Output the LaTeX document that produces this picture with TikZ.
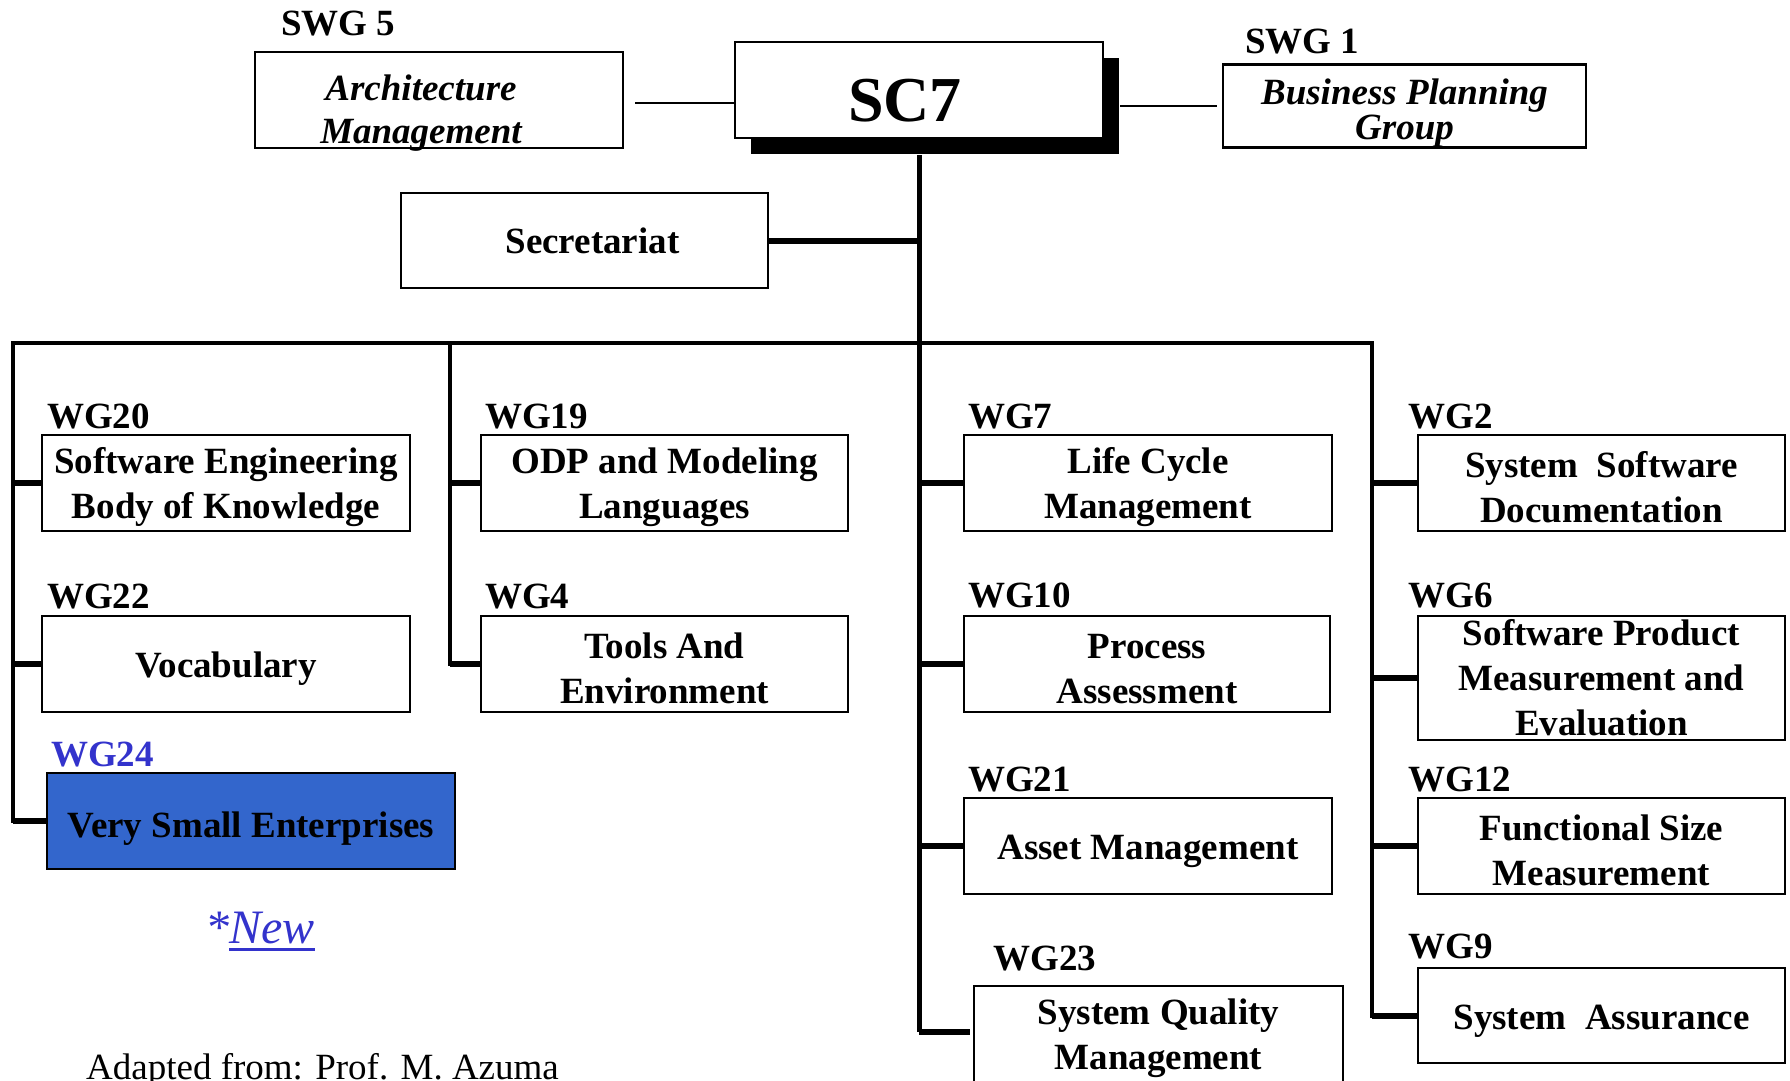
\documentclass[tikz,border=0pt]{standalone}
\usepackage{fontspec}
\setmainfont{Liberation Serif}
\usetikzlibrary{shadows}
\definecolor{vseblue}{HTML}{3366CC}
\definecolor{newblue}{HTML}{3333CC}
\newcommand\mytxt{\fontsize{37}{45}\selectfont}
\newcommand\lowstrut{\rule{0pt}{35pt}}
\begin{document}
\begin{tikzpicture}[x=1pt,y=-1pt,
  box/.style={draw=black, line width=2.5pt, fill=white, rectangle, inner sep=0pt,
              align=center, font=\mytxt\bfseries, minimum width=368pt, minimum height=96pt},
  plain/.style={inner sep=0pt, align=center},
  lbl/.style={anchor=base west, inner sep=0pt, font=\mytxt\bfseries},
  thin/.style={line width=2.5pt},
  bus/.style={line width=4.5pt, line cap=rect},
  stub/.style={line width=6pt},
  trunkline/.style={line width=5pt},
]
\useasboundingbox (0,0) rectangle (1790,1080);
\clip (0,0) rectangle (1790,1080);

% top level
\node[box, drop shadow={shadow xshift=16pt, shadow yshift=-16pt, fill=black, opacity=1}] (sc7) at (919,90) {};
\node[plain, font=\fontsize{64}{70}\selectfont\bfseries] (sc7t) at ([shift={(-14pt,-11pt)}]sc7.center) {SC7};

\node[box] (arch) at (439,100) {};
\node[plain, font=\fontsize{37}{43}\selectfont\bfseries\itshape] (archt) at ([shift={(-18pt,-13pt)}]arch.center) {Architecture\\Management};
\node[lbl] (swg5) at (281,35) {SWG 5};

\node[box, minimum width=363pt, minimum height=82pt, font=\fontsize{37}{35}\selectfont\bfseries\itshape] (bpg) at (1404.5,106) {\lowstrut\raisebox{-5pt}{Business Planning}\\\raisebox{-5pt}{Group}};
\node[lbl] (swg1) at (1245,53) {SWG 1};

\node[box, minimum width=367pt, minimum height=95pt] (sec) at (584.5,240.5) {\hspace*{16pt}Secretariat};

% working groups, column 1
\node[box] (wg20) at (226,483) {\lowstrut Software Engineering\\Body of Knowledge};
\node[lbl] (l20) at (47,428) {WG20};
\node[box] (wg22) at (226,664) {\lowstrut Vocabulary};
\node[lbl] (l22) at (47,608) {WG22};
\node[box, fill=vseblue, minimum width=408pt] (wg24) at (251,821) {\lowstrut\raisebox{-5pt}{Very Small Enterprises}};
\node[lbl, text=newblue] (l24) at (51,766) {WG24};

% column 2
\node[box, minimum width=367pt] (wg19) at (664.5,483) {\lowstrut ODP and Modeling\\Languages};
\node[lbl] (l19) at (485,428) {WG19};
\node[box, minimum width=367pt] (wg4) at (664.5,664) {\lowstrut Tools And\\Environment};
\node[lbl] (l4) at (485,608) {WG4};

% column 3
\node[box] (wg7) at (1148,483) {\lowstrut Life Cycle\\Management};
\node[lbl] (l7) at (968,428) {WG7};
\node[box, minimum width=366pt] (wg10) at (1147,664) {\lowstrut Process\\Assessment};
\node[lbl] (l10) at (968,607) {WG10};
\node[box] (wg21) at (1148,846) {\lowstrut Asset Management};
\node[lbl] (l21) at (968,791) {WG21};
\node[box, minimum width=369pt] (wg23) at (1158.5,1034) {\lowstrut System Quality\\Management};
\node[lbl] (l23) at (993,970) {WG23};

% column 4
\node[box, minimum width=367pt] (wg2) at (1601.5,483) {\lowstrut System~ Software\\Documentation};
\node[lbl] (l2) at (1408,428) {WG2};
\node[box, minimum width=367pt, minimum height=124pt] (wg6) at (1601.5,678) {Software Product\\Measurement and\\Evaluation};
\node[lbl] (l6) at (1408,607) {WG6};
\node[box, minimum width=367pt] (wg12) at (1601.5,846) {\lowstrut Functional Size\\Measurement};
\node[lbl] (l12) at (1408,791) {WG12};
\node[box, minimum width=367pt, minimum height=95pt] (wg9) at (1601.5,1015.5) {\lowstrut System~ Assurance};
\node[lbl] (l9) at (1408,958) {WG9};

% notes
\node[anchor=base west, inner sep=0pt, text=newblue, font=\fontsize{48}{52}\selectfont\itshape] (new) at (205,943)
  {*\vtop{\hbox{New}\kern4.5pt\hrule height 3pt}};
\node[anchor=base west, inner sep=0pt, font=\mytxt] (adapted) at (86,1079) {Adapted from: Prof. M. Azuma};

% connectors
\coordinate (trunkend) at (919,1032);
\coordinate (busleft) at (13,343);
\coordinate (br2) at (450,343);
\coordinate (br4) at (1372,343);
\coordinate (archR) at ([shift={(11pt,-3pt)}]arch.east);

\draw[thin] (archR) -- (sc7.west |- archR);
\draw[thin] ([xshift=16pt]sc7.east |- bpg.west) -- ([xshift=-5pt]bpg.west);
\draw[trunkline] ([yshift=-16pt]sc7.south) -- (trunkend);
\draw[stub] (sec.east) -- (sec.east -| trunkend);

\draw[bus] (busleft) -- (br4);
\draw[bus] (busleft) -- (busleft |- wg24.west);
\draw[bus] (br2) -- (br2 |- wg4.west);
\draw[bus] (br4) -- (br4 |- wg9.west);

\draw[stub] (busleft |- wg20.west) -- (wg20.west);
\draw[stub] (busleft |- wg22.west) -- (wg22.west);
\draw[stub] (busleft |- wg24.west) -- (wg24.west);
\draw[stub] (br2 |- wg19.west) -- (wg19.west);
\draw[stub] (br2 |- wg4.west) -- (wg4.west);
\draw[stub] (trunkend |- wg7.west) -- (wg7.west);
\draw[stub] (trunkend |- wg10.west) -- (wg10.west);
\draw[stub] (trunkend |- wg21.west) -- (wg21.west);
\draw[stub] (trunkend) -- ([xshift=-3pt]trunkend -| wg23.west);
\draw[stub] (br4 |- wg2.west) -- (wg2.west);
\draw[stub] (br4 |- wg6.west) -- (wg6.west);
\draw[stub] (br4 |- wg12.west) -- (wg12.west);
\draw[stub] (br4 |- wg9.west) -- (wg9.west);
\end{tikzpicture}
\end{document}
